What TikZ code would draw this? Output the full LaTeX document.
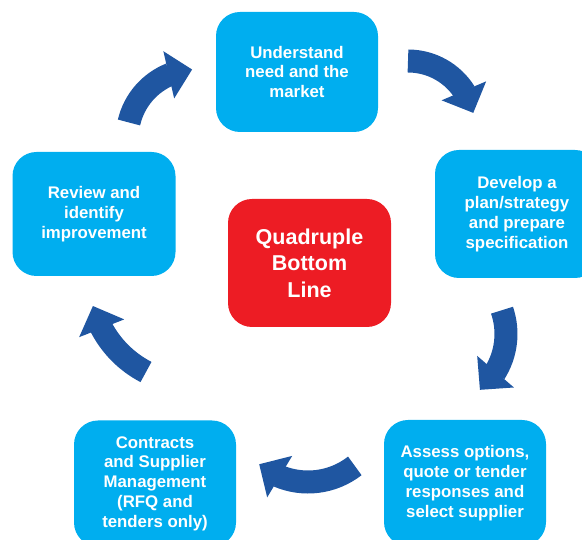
\documentclass[tikz,border=0pt]{standalone}
\usepackage{fontspec}
\setmainfont{Liberation Sans}
\usetikzlibrary{arrows.meta,bending}
\definecolor{stagecyan}{HTML}{00AEEF}
\definecolor{corered}{HTML}{ED1C24}
\definecolor{arrowblue}{HTML}{1F56A1}
\tikzset{
    stage-box/.style = {fill=stagecyan, text=white, rectangle, rounded corners=24pt, minimum width=162pt, minimum height=126pt, inner sep=0pt, align=center, font=\fontsize{16.8}{19.8}\selectfont\bfseries},
    core-box/.style = {fill=corered, text=white, rectangle, rounded corners=24pt, minimum width=163pt, minimum height=128pt, inner sep=0pt, align=center, font=\fontsize{21.5}{26.5}\selectfont\bfseries},
    cycle-arrow/.style = {draw=arrowblue, line width=23pt, -{Triangle[width=47pt, length=24pt, flex]}},
}

\begin{document}
\begin{tikzpicture}[x=1pt, y=1pt]
\path[use as bounding box] (0,0) rectangle (582,540);
\clip (0,0) rectangle (582,540);
% the five stages and the core
\node [stage-box, minimum height=120pt] (understand) at (297,468) {Understand\\need and the\\market};
\node [stage-box, minimum width=164pt, minimum height=128pt] (develop) at (517,326) {Develop a\\plan/strategy\\and prepare\\specification};
\node [stage-box] (assess) at (465,57) {Assess options,\\quote or tender\\responses and\\select supplier};
\node [stage-box] (contracts) at (155,56.5) {Contracts\\and Supplier\\Management\\(RFQ and\\tenders only)};
\node [stage-box, minimum width=163pt, minimum height=124pt] (review) at (94,326) {Review and\\identify\\improvement};
\node [core-box] (core) at (309.5,277) {Quadruple\\Bottom\\Line};
% arrow starts
\coordinate (arr-a) at (408,479);
\coordinate (arr-b) at (502,229.8);
\coordinate (arr-c) at (354.8,74.1);
\coordinate (arr-d) at (146,168);
\coordinate (arr-e) at (129,417.5);
\draw [cycle-arrow] (arr-a) arc [start angle=90, end angle=13, radius=67pt];
\draw [cycle-arrow] (arr-b) arc [start angle=19, end angle=-50, radius=73pt];
\draw [cycle-arrow] (arr-c) arc [start angle=308, end angle=230, radius=76pt];
\draw [cycle-arrow] (arr-d) arc [start angle=242.6, end angle=195, radius=105pt];
\draw [cycle-arrow] (arr-e) arc [start angle=167, end angle=93, radius=68.5pt];
\end{tikzpicture}
\end{document}
